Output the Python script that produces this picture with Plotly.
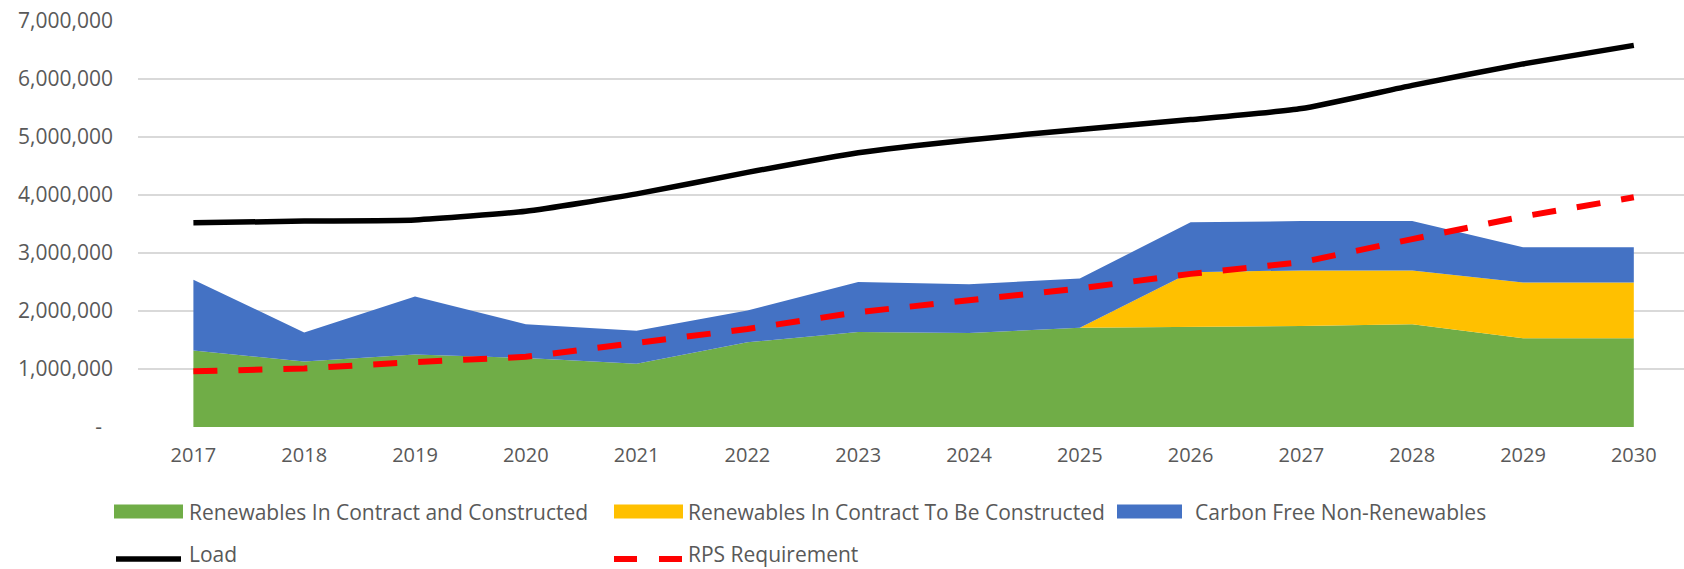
import plotly.graph_objects as go

# Annual energy (MWh) by source, with load and RPS requirement
years = [2017, 2018, 2019, 2020, 2021, 2022, 2023, 2024, 2025, 2026, 2027, 2028, 2029, 2030]
year_labels = [str(y) for y in years]

renew_constructed = [1320000, 1130000, 1250000, 1190000, 1090000, 1460000, 1640000,
                     1620000, 1710000, 1720000, 1740000, 1770000, 1530000, 1530000]
renew_to_build = [0, 0, 0, 0, 0, 0, 0, 0, 0, 950000, 960000, 930000, 960000, 960000]
carbon_free = [1220000, 500000, 1000000, 580000, 570000, 550000, 860000,
               840000, 850000, 860000, 850000, 850000, 610000, 610000]
load = [3520000, 3550000, 3570000, 3720000, 4020000, 4390000, 4730000,
        4950000, 5130000, 5300000, 5490000, 5890000, 6260000, 6580000]
rps_requirement = [960000, 1010000, 1120000, 1210000, 1450000, 1690000, 1980000,
                   2180000, 2390000, 2640000, 2840000, 3240000, 3630000, 3960000]

y_tick_vals = [0, 1000000, 2000000, 3000000, 4000000, 5000000, 6000000, 7000000]
y_tick_text = ["-\u00a0\u00a0", "1,000,000", "2,000,000", "3,000,000", "4,000,000",
               "5,000,000", "6,000,000", "7,000,000"]

GREEN = "#70AD47"
YELLOW = "#FFC000"
BLUE = "#4472C4"
RED = "#FF0000"
TEXT = "#595959"
FONT = "Open Sans"

W, H = 1684, 569
M_L, M_R, M_T, M_B = 138, 0, 21, 142

fig = go.Figure()

for name, vals, col in [
    ("Renewables In Contract and Constructed", renew_constructed, GREEN),
    ("Renewables In Contract To Be Constructed", renew_to_build, YELLOW),
    ("Carbon Free Non-Renewables", carbon_free, BLUE),
]:
    fig.add_trace(go.Scatter(
        x=years, y=vals, name=name, mode="lines", stackgroup="supply",
        line=dict(width=0, color=col), fillcolor=col, showlegend=False,
    ))

fig.add_trace(go.Scatter(
    x=years, y=load, name="Load", mode="lines",
    line=dict(color="black", width=5.5, shape="spline", smoothing=0.5),
    showlegend=False,
))
fig.add_trace(go.Scatter(
    x=years, y=rps_requirement, name="RPS Requirement", mode="lines",
    line=dict(color=RED, width=6, dash="24px,21px"),
    showlegend=False,
))

# Legend drawn below the plot, positioned in pixels
plot_w = W - M_L - M_R
plot_h = H - M_T - M_B


def px_x(x):
    return (x - M_L) / plot_w


def px_y(y):
    return (H - M_B - y) / plot_h


shapes = []
annotations = []
legend_font = dict(family=FONT, size=21, color=TEXT)

row1, row2 = 511.5, 557.5
for x0, x1, tx, col, label in [
    (114, 183, 188, GREEN, "Renewables In Contract and Constructed"),
    (614, 683, 687, YELLOW, "Renewables In Contract To Be Constructed"),
    (1117, 1182, 1194, BLUE, "Carbon Free Non-Renewables"),
]:
    shapes.append(dict(type="rect", xref="paper", yref="paper",
                       x0=px_x(x0), x1=px_x(x1), y0=px_y(row1 + 7), y1=px_y(row1 - 7),
                       fillcolor=col, line=dict(width=0)))
    annotations.append(dict(xref="paper", yref="paper", x=px_x(tx), y=px_y(row1),
                            xanchor="left", yanchor="middle", showarrow=False,
                            borderpad=0, text=label, font=legend_font))

shapes.append(dict(type="line", xref="paper", yref="paper",
                   x0=px_x(116), x1=px_x(181), y0=px_y(row2 + 1.5), y1=px_y(row2 + 1.5),
                   line=dict(color="black", width=5.5)))
for x0, x1 in [(614, 637), (659, 682)]:
    shapes.append(dict(type="line", xref="paper", yref="paper",
                       x0=px_x(x0), x1=px_x(x1), y0=px_y(row2 + 1.5), y1=px_y(row2 + 1.5),
                       line=dict(color=RED, width=6)))
for x, label in [(188, "Load"), (687, "RPS Requirement")]:
    annotations.append(dict(xref="paper", yref="paper", x=px_x(x), y=px_y(row2 - 3.5),
                            xanchor="left", yanchor="middle", showarrow=False,
                            borderpad=0, text=label, font=legend_font))

fig.update_layout(
    width=W, height=H,
    margin=dict(l=M_L, r=M_R, t=M_T, b=M_B, pad=0),
    paper_bgcolor="white", plot_bgcolor="white",
    font=dict(family=FONT, color=TEXT),
    showlegend=False,
    shapes=shapes,
    annotations=annotations,
    xaxis=dict(
        range=[2016.5, 2030.453], tickmode="array", tickvals=years, ticktext=year_labels,
        showgrid=False, zeroline=False, showline=False, ticks="",
        tickfont=dict(family=FONT, size=20, color=TEXT), ticklabelstandoff=14,
        fixedrange=True,
    ),
    yaxis=dict(
        range=[0, 7000000], tickmode="array", tickvals=y_tick_vals, ticktext=y_tick_text,
        showgrid=True, gridcolor="#D9D9D9", gridwidth=1.6, zeroline=False,
        showline=False, ticks="",
        tickfont=dict(family=FONT, size=21, color=TEXT), ticklabelstandoff=24,
        fixedrange=True,
    ),
)

fig.write_html("out.html")
